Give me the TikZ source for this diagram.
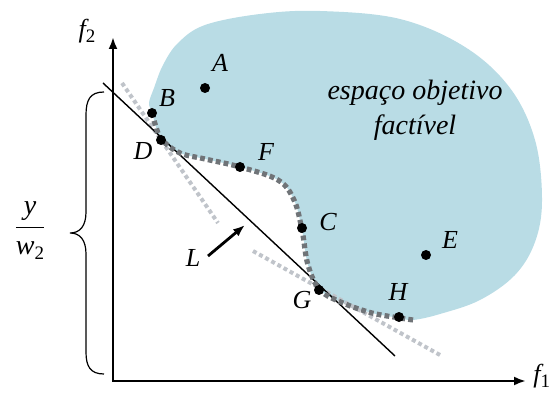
\documentclass[tikz,border=0pt]{standalone}
\usepackage{fontspec}
\setmainfont{Liberation Serif}
\usetikzlibrary{arrows.meta}
\definecolor{regiao}{RGB}{185,220,229}
\definecolor{pareto}{RGB}{112,116,120}
\definecolor{apoio}{RGB}{192,196,202}
\newcommand{\lowsub}[1]{\raisebox{-0.45ex}{\upshape\fontsize{9.5}{10}\selectfont #1}}
\tikzset{
    ponto/.style={circle, fill=black, inner sep=0pt, minimum size=5pt},
    rotulo/.style={font=\fontsize{13}{15}\selectfont\itshape, inner sep=0pt},
    eixo/.style={line width=1.4pt, >={Latex[length=6pt,width=4.5pt]}},
    fronteira/.style={pareto, line width=2.6pt, dash pattern=on 2.4pt off 1.6pt},
    auxiliar/.style={apoio, line width=2pt, dash pattern=on 2pt off 1.5pt},
}
\begin{document}
\begin{tikzpicture}[x=0.5pt, y=-0.5pt]
    \clip (0,0) rectangle (560,394);

    % Espaço objetivo factível
    \fill[regiao] plot[smooth cycle, tension=0.6] coordinates {
        (152,112) (149,103) (154,88) (163,65) (178,43) (205,25) (260,14)
        (320,11) (400,19) (465,47) (510,88) (535,140) (542,200) (535,242)
        (515,275) (480,300) (440,314) (413,320) (400,318) (372,313)
        (343,303) (320,290) (308,265) (302,230) (294,200) (278,180)
        (240,167) (205,159) (180,153) (162,140) (156,127)};
    \node[font=\fontsize{14}{17.5}\selectfont\itshape, align=center] (txt) at (415,110)
        {espaço objetivo\\factível};

    % Retas auxiliares
    \coordinate (a1) at (122,83);
    \coordinate (a2) at (218,223);
    \coordinate (b1) at (253,251);
    \coordinate (b2) at (440,355);
    \draw[auxiliar] (a1) -- (a2);
    \draw[auxiliar] (b1) -- (b2);

    % Reta L
    \coordinate (t1) at (103,83);
    \coordinate (t2) at (395,356);
    \draw[line width=0.7pt] (t1) -- (t2);

    % Fronteira de Pareto
    \draw[fronteira] plot[smooth, tension=0.6] coordinates {
        (413,320) (400,318) (372,313) (343,303) (320,290) (308,265)
        (302,230) (294,200) (278,180) (240,167) (205,159) (180,153)
        (162,140) (156,127) (152,112)};

    % Pontos
    \node[ponto] (A) at (205,88) {};
    \node[ponto] (B) at (152,113) {};
    \node[ponto] (D) at (161,140) {};
    \node[ponto] (F) at (240,167) {};
    \node[ponto] (C) at (302,228) {};
    \node[ponto] (E) at (426,255) {};
    \node[ponto] (G) at (319,290) {};
    \node[ponto] (H) at (399,317) {};
    \node[rotulo] (labA) at (220,63) {A};
    \node[rotulo] (labB) at (167,98) {B};
    \node[rotulo] (labD) at (143,151) {D};
    \node[rotulo] (labF) at (266,152) {F};
    \node[rotulo] (labC) at (328,222) {C};
    \node[rotulo] (labE) at (450,240) {E};
    \node[rotulo] (labH) at (398,292) {H};
    \node[rotulo] (labG) at (302,300) {G};
    \node[rotulo] (labL) at (193,258) {L};
    \coordinate (cauda) at (208,256);
    \coordinate (seta) at (245,225);
    \draw[->, eixo] (cauda) -- (seta);

    % Eixos
    \coordinate (O) at (113,381);
    \coordinate (yfim) at (113,37);
    \coordinate (xfim) at (526,381);
    \draw[<->, eixo] (yfim) |- (xfim);
    \node[rotulo] (f2) at (87,31) {f\lowsub{2}};
    \node[rotulo, anchor=west] (f1) at (533,376) {f\lowsub{1}};

    % Chave
    \draw[line width=0.6pt] (104,92) .. controls (90,92) and (86,100) .. (86,115)
        -- (86,212) .. controls (86,226) and (80,233) .. (70,233)
        .. controls (80,233) and (86,240) .. (86,254)
        -- (86,352) .. controls (86,366) and (90,374) .. (104,374);
    \node[font=\fontsize{14}{17}\selectfont] (frac) at (30,231)
        {$\displaystyle\frac{\mbox{\itshape y}}{\mbox{\itshape w\lowsub{2}}}$};
\end{tikzpicture}
\end{document}
